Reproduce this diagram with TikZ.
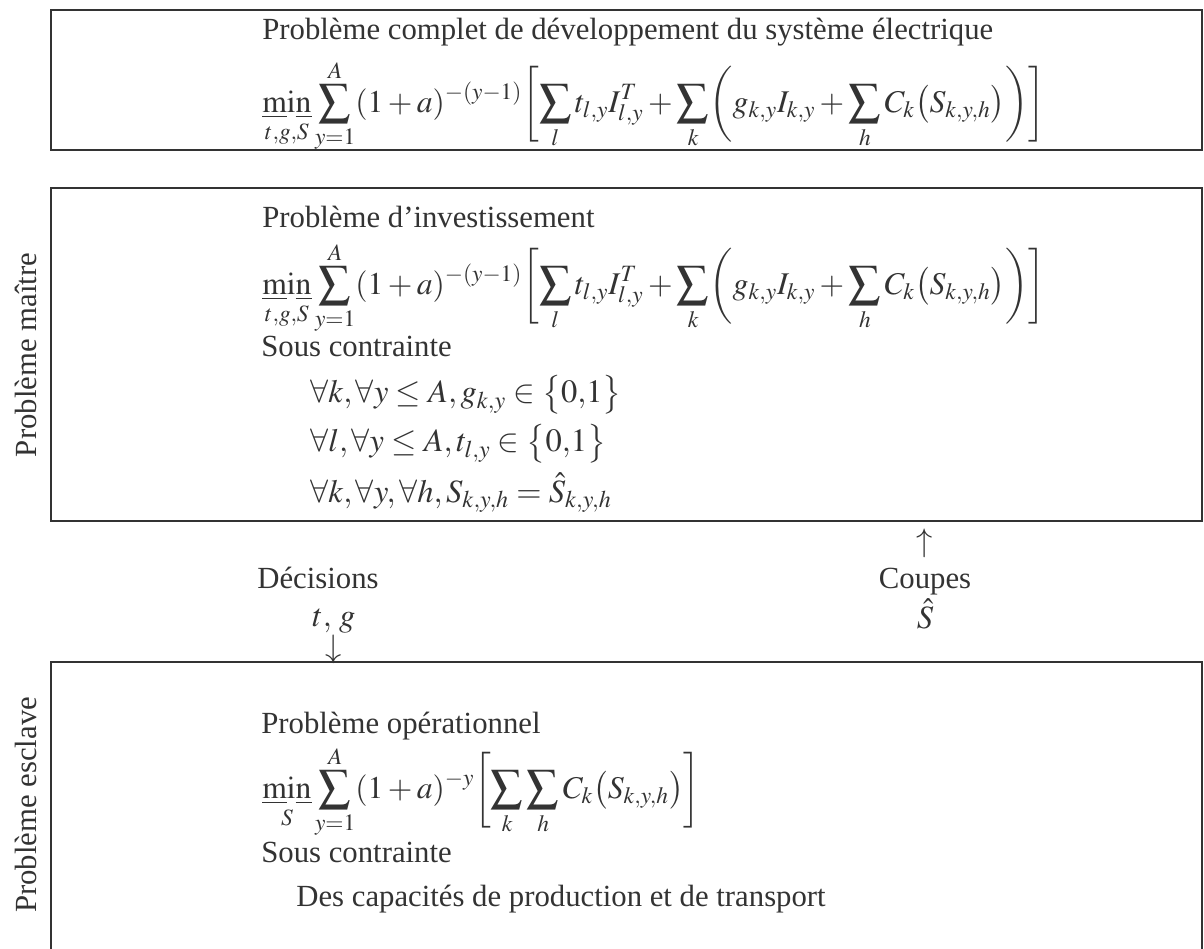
\documentclass[tikz,border=0pt]{standalone}
\usepackage{mathptmx}
\usepackage[no-math]{fontspec}
\setmainfont{Liberation Serif}
\definecolor{ink}{RGB}{51,51,51}
\newcommand{\umin}{\mathop{\underline{\mathrm{m}}\mathrm{i}\underline{\mathrm{n}}}\limits}
\tikzset{
  box/.style={draw=ink, line width=0.04cm},
  txt/.style={anchor=base west, inner sep=0pt, text=ink, font=\fontsize{17.5}{21}\selectfont},
  fml/.style={anchor=west, inner sep=0pt, text=ink, font=\fontsize{18}{22}\selectfont},
  cst/.style={anchor=base west, inner sep=0pt, text=ink, font=\fontsize{18.5}{22}\selectfont},
  lbl/.style={anchor=base, inner sep=0pt, text=ink, font=\fontsize{18.5}{22}\selectfont},
  side/.style={rotate=90, inner sep=0pt, text=ink, font=\fontsize{17.5}{21}\selectfont},
}
\begin{document}
\begin{tikzpicture}[x=0.02cm, y=-0.02cm]
  \useasboundingbox (0,0) rectangle (1204,949);
  % cadres
  \draw[box] (51,10) rectangle (1202,150);
  \draw[box] (51,188) rectangle (1202,521);
  \draw[box] (51,960) -- (51,662) -- (1202,662) -- (1202,960);
  % probleme complet
  \node[txt] (titre) at (262,40) {Problème complet de développement du système électrique};
  \node[fml] (fcomplet) at (262,106) {$\displaystyle \umin_{t,g,S}\sum_{y=1}^{A}(1+a)^{-(y-1)}\biggl[\sum_{l}t_{l,y}I_{l,y}^{T}+\sum_{k}\biggl(g_{k,y}I_{k,y}+\sum_{h}C_{k}\bigl(S_{k,y,h}\bigr)\biggr)\biggr]$};
  % probleme maitre
  \node[side] (maitre) at (26,355) {Problème maître};
  \node[txt] (invest) at (262,228) {Problème d’investissement};
  \node[fml] (finvest) at (262,288) {$\displaystyle \umin_{t,g,S}\sum_{y=1}^{A}(1+a)^{-(y-1)}\biggl[\sum_{l}t_{l,y}I_{l,y}^{T}+\sum_{k}\biggl(g_{k,y}I_{k,y}+\sum_{h}C_{k}\bigl(S_{k,y,h}\bigr)\biggr)\biggr]$};
  \node[txt] (sousm) at (261,357) {Sous contrainte};
  \node[cst] (c1) at (310,403) {$\forall k,\forall y\le A,g_{k,y}\in\bigl\{0{,}1\bigr\}$};
  \node[cst] (c2) at (310,452) {$\forall l,\forall y\le A,t_{l,y}\in\bigl\{0{,}1\bigr\}$};
  \node[cst] (c3) at (310,502) {$\forall k,\forall y,\forall h,S_{k,y,h}=\hat{S}_{k,y,h}$};
  % echanges
  \node[txt, anchor=base] (dec) at (318,588) {Décisions};
  \node[lbl] (tg) at (334,626) {$t,\,g$};
  \node[lbl] (bas) at (334,657) {$\downarrow$};
  \node[lbl] (haut) at (925,551) {$\uparrow$};
  \node[txt, anchor=base] (coupes) at (925,588) {Coupes};
  \node[lbl] (shat) at (925,628) {$\hat{S}$};
  % probleme esclave
  \node[side] (esclave) at (26,805) {Problème esclave};
  \node[txt] (oper) at (261,733) {Problème opérationnel};
  \node[fml] (foper) at (262,792) {$\displaystyle \umin_{S}\sum_{y=1}^{A}(1+a)^{-y}\biggl[\sum_{k}\sum_{h}C_{k}\bigl(S_{k,y,h}\bigr)\biggr]$};
  \node[txt] (souse) at (261,862) {Sous contrainte};
  \node[txt] (capa) at (296,906) {Des capacités de production et de transport};
\end{tikzpicture}
\end{document}
